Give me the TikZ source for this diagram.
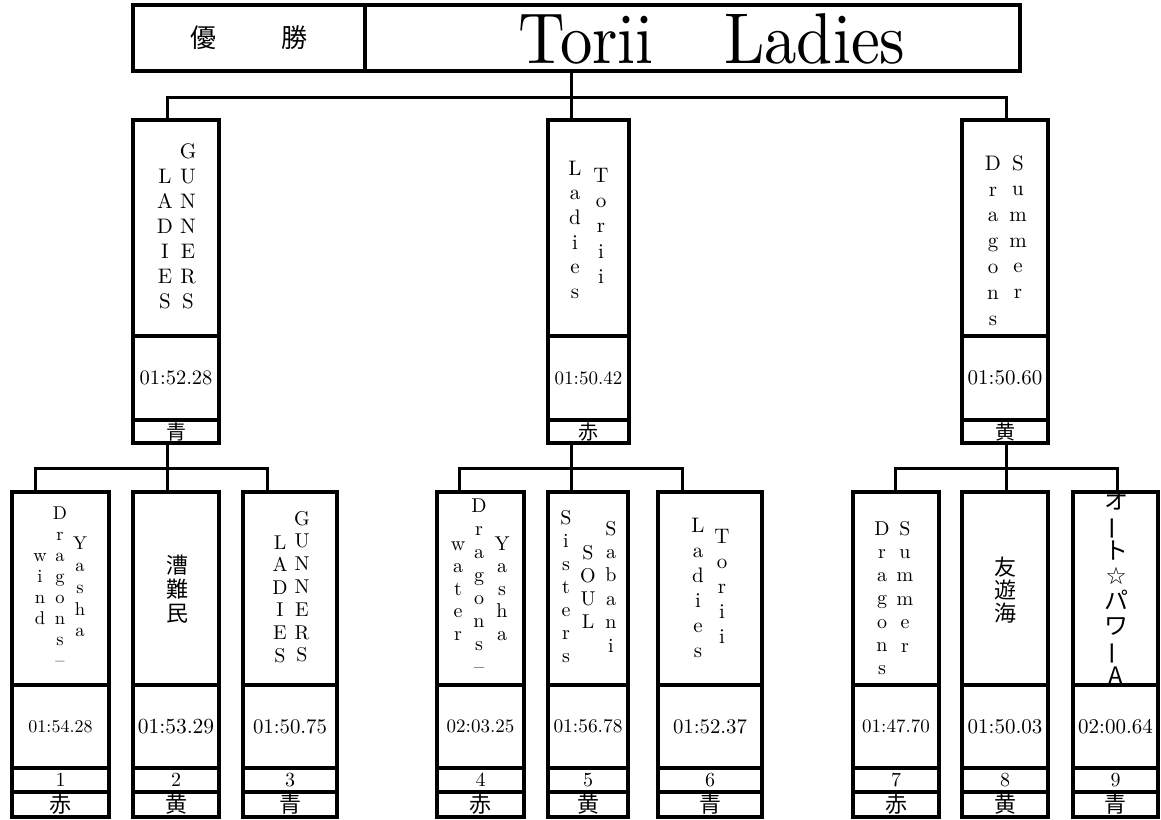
\documentclass[tikz,border=0pt]{standalone}
\usepackage{fontspec}
\usepackage{graphicx}
\setmainfont{lmroman10-regular}[Extension=.otf]
\newfontfamily\jp{Noto Sans CJK JP}
\newfontfamily\dv{DejaVu Sans}
\usetikzlibrary{calc}
\newcommand\fs[1]{\fontsize{#1}{#1}\selectfont}
\tikzset{
  cellb/.style={draw, line width=3.3pt, rectangle, inner sep=0pt, outer sep=0pt},
  conn/.style={draw, line width=3pt},
}
\newcommand\tcell[5]{\node[cellb, minimum width={(#4-#2)*1pt}, minimum height={(#5-#3)*1pt}] (#1) at ({(#2+#4)/2},{(#3+#5)/2}) {};}
\newcommand\vcol[6]{\foreach \c [count=\i] in {#6} {\node[inner sep=0pt, text height={#5*0.5pt}, text depth=0pt, font=\fs{#5}] (#1-\i) at (#2,{#3+(\i-1)*#4}) {\c};}}
\newcommand\jcol[6]{\foreach \c [count=\i] in {#6} {\node[inner sep=0pt, text height={#5*0.88pt}, text depth={#5*0.12pt}, font=\jp\fs{#5}] (#1-\i) at (#2,{#3+(\i-1)*#4}) {\c};}}
\newcommand\semibox[6]{%
  \tcell{#1n}{#2}{120}{#3}{336}
  \tcell{#1t}{#2}{336}{#3}{420}
  \tcell{#1c}{#2}{420}{#3}{443}
  \node[font=\fs{#5}] (#1tt) at (#1t) {#4};
  \node[font=\jp\fs{20}] (#1ct) at (#1c) {#6};}
\newcommand\botbox[7]{%
  \tcell{#1n}{#2}{492}{#3}{685}
  \tcell{#1t}{#2}{685}{#3}{768}
  \tcell{#1u}{#2}{768}{#3}{792}
  \tcell{#1c}{#2}{792}{#3}{817}
  \node[font=\fs{#5}] (#1tt) at (#1t) {#4};
  \node[font=\fs{20}] (#1ut) at (#1u) {#6};
  \node[font=\jp\fs{22}] (#1ct) at (#1c) {#7};}
\begin{document}
\begin{tikzpicture}[x=1pt,y=-1pt]
\fill[white] (0,0) rectangle (1161,819);
\useasboundingbox (0,0) rectangle (1161,819);
% header
\tcell{hl}{133}{5}{365}{71}
\tcell{hr}{365}{5}{1020}{71}
\node[font=\jp\fs{26}] (hlt) at (hl) {優\hspace{66pt}勝};
\node[anchor=base, font=\fs{72}, inner sep=0pt] (hrt) at (712,63) {\scalebox{0.9}[1]{Torii\hspace{78pt}Ladies}};
% semifinal boxes
\semibox{s1}{133}{219}{01:52.28}{20.5}{青}
\semibox{s2}{548}{629}{01:50.42}{19}{赤}
\semibox{s3}{962}{1048}{01:50.60}{21}{黄}
\vcol{s1a}{165}{178}{25}{21}{L,A,D,I,E,S}
\vcol{s1b}{188}{153}{25}{21}{G,U,N,N,E,R,S}
\vcol{s2a}{575}{170}{24.6}{21}{L,a,d,i,e,s}
\vcol{s2b}{601}{177}{25.3}{21}{T,o,r,i,i}
\vcol{s3a}{993}{165}{25.8}{21}{D,r,a,g,o,n,s}
\vcol{s3b}{1018}{165}{25.6}{21}{S,u,m,m,e,r}
% bottom boxes
\botbox{b1}{12}{109}{01:54.28}{18}{1}{赤}
\botbox{b2}{133}{219}{01:53.29}{21.5}{2}{黄}
\botbox{b3}{243}{337}{01:50.75}{20.8}{3}{青}
\botbox{b4}{437}{524}{02:03.25}{19}{4}{赤}
\botbox{b5}{548}{628}{01:56.78}{19.4}{5}{黄}
\botbox{b6}{658}{762}{01:52.37}{20.8}{6}{青}
\botbox{b7}{853}{939}{01:47.70}{19}{7}{赤}
\botbox{b8}{962}{1048}{01:50.03}{21}{8}{黄}
\botbox{b9}{1073}{1158}{02:00.64}{21}{9}{青}
\vcol{b1a}{40}{557}{21}{18.5}{w,i,n,d}
\vcol{b1b}{60}{515}{21}{18.5}{D,r,a,g,o,n,s,–}
\vcol{b1c}{80}{545}{21.8}{18.5}{Y,a,s,h,a}
\jcol{b2a}{177}{565}{24}{22}{漕,難,民}
\vcol{b3a}{280}{544}{22.6}{20}{L,A,D,I,E,S}
\vcol{b3b}{302}{520}{22.8}{20}{G,U,N,N,E,R,S}
\vcol{b4a}{458}{545}{22.5}{20}{w,a,t,e,r}
\vcol{b4b}{479}{507}{23}{20}{D,r,a,g,o,n,s,–}
\vcol{b4c}{502}{545}{22.5}{20}{Y,a,s,h,a}
\vcol{b5a}{566}{519}{23}{20}{S,i,s,t,e,r,s}
\vcol{b5b}{588}{554}{23.3}{20}{S,O,U,L}
\vcol{b5c}{611}{530}{23.4}{20}{S,a,b,a,n,i}
\vcol{b6a}{698}{527}{25}{21}{L,a,d,i,e,s}
\vcol{b6b}{722}{538}{25}{21}{T,o,r,i,i}
\vcol{b7a}{882}{530}{23.3}{20}{D,r,a,g,o,n,s}
\vcol{b7b}{905}{530}{23.4}{20}{S,u,m,m,e,r}
\jcol{b8a}{1005}{567}{23}{22}{友,遊,海}
\begin{scope}
\clip (1073,492) rectangle (1158,685);
\jcol{b9a}{1116}{500}{25}{24}{オ,{\rotatebox[origin=c]{90}{ー}},ト,{\dv ☆},パ,ワ,{\rotatebox[origin=c]{90}{ー}},A}
\end{scope}
% connectors top
\coordinate (t0) at (571,97);
\coordinate (t1) at (167,97);
\coordinate (t3) at (1006,97);
\draw[conn] (hr.south -| t0) -- (t0);
\draw[conn] (t1 |- s1n.north) -- (t1) -- (t3) -- (t3 |- s3n.north);
\draw[conn] (t0) -- (t0 |- s2n.north);
% group 1
\coordinate (g1) at (167,468);
\coordinate (g1a) at (35,468);
\coordinate (g1c) at (267,468);
\draw[conn] (s1c.south -| g1) -- (g1);
\draw[conn] (g1a |- b1n.north) -- (g1a) -- (g1c) -- (g1c |- b3n.north);
\draw[conn] (g1) -- (g1 |- b2n.north);
% group 2
\coordinate (g2) at (571,468);
\coordinate (g2a) at (459,468);
\coordinate (g2c) at (682,468);
\draw[conn] (s2c.south -| g2) -- (g2);
\draw[conn] (g2a |- b4n.north) -- (g2a) -- (g2c) -- (g2c |- b6n.north);
\draw[conn] (g2) -- (g2 |- b5n.north);
% group 3
\coordinate (g3) at (1006,468);
\coordinate (g3a) at (895,468);
\coordinate (g3c) at (1117,468);
\draw[conn] (s3c.south -| g3) -- (g3);
\draw[conn] (g3a |- b7n.north) -- (g3a) -- (g3c) -- (g3c |- b9n.north);
\draw[conn] (g3) -- (g3 |- b8n.north);
\end{tikzpicture}
\end{document}
